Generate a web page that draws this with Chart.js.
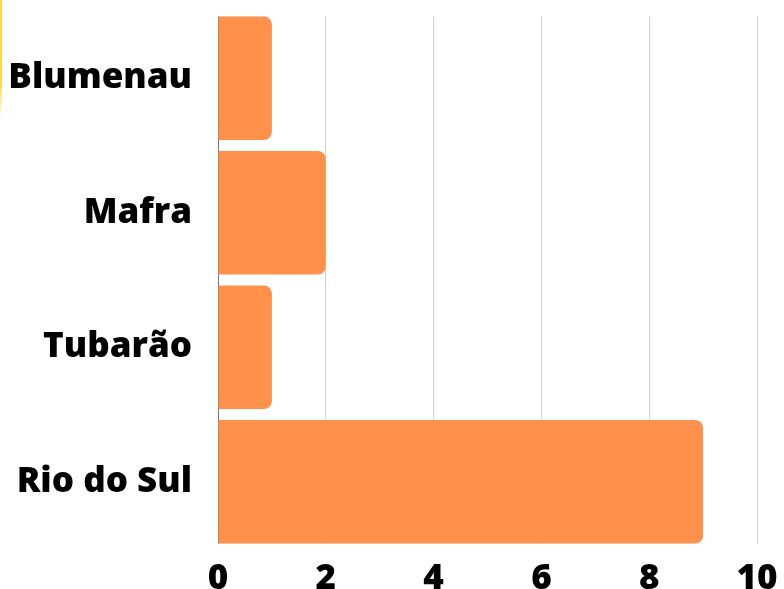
<!DOCTYPE html>
<html>
<head>
<meta charset="utf-8">
<script src="https://cdn.jsdelivr.net/npm/chart.js@4"></script>
<style>
  html, body { margin: 0; padding: 0; background: #fff; overflow: hidden; }
  #wrap { position: relative; width: 784px; height: 589px; }
  #chart { position: absolute; left: 0; top: 0; }
  #edge { position: absolute; left: 0; top: 0; width: 2px; height: 118px; z-index: 2;
          background: linear-gradient(#ffd84a 0%, #ffd84a 70%, rgba(255,216,74,0) 100%); }
</style>
</head>
<body>
<div id="wrap">
  <canvas id="chart" width="784" height="589"></canvas>
  <div id="edge"></div>
</div>
<script>
var cities = ['Blumenau', 'Mafra', 'Tubarão', 'Rio do Sul'];
var counts = [1, 2, 1, 9];
var xTicks = [0, 2, 4, 6, 8, 10];

var labelFont = { family: 'Open Sans', size: 35, weight: 800 };

// grid lines only run from the top of the first bar to the bottom of the last one
var trimGrid = {
    id: 'trimGrid',
    beforeDatasetsDraw: function (chart) {
        var meta = chart.getDatasetMeta(0);
        var first = meta.data[0], last = meta.data[meta.data.length - 1];
        var a = chart.chartArea, c = chart.ctx;
        c.save();
        c.fillStyle = '#fff';
        c.fillRect(a.left - 1, a.top - 1, a.right - a.left + 3, first.y - first.height / 2 - a.top + 1);
        var lb = last.y + last.height / 2;
        c.fillRect(a.left - 1, lb, a.right - a.left + 3, a.bottom - lb + 1);
        c.restore();
    }
};

var ctx = document.getElementById('chart');
var myChart = new Chart(ctx, {
    type: 'bar',
    data: {
        labels: cities,
        datasets: [{
            data: counts,
            backgroundColor: '#ff914d',
            borderRadius: 8,
            borderSkipped: 'start',
            barPercentage: 0.92,
            categoryPercentage: 1
        }]
    },
    options: {
        indexAxis: 'y',
        responsive: false,
        animation: false,
        layout: { padding: { top: 11, right: 0, bottom: 0, left: 0 } },
        plugins: { legend: { display: false }, tooltip: { enabled: false } },
        scales: {
            x: {
                min: 0,
                max: 10,
                afterBuildTicks: function (axis) {
                    axis.ticks = xTicks.map(function (v) { return { value: v }; });
                },
                afterFit: function (axis) {
                    axis.height = 40;
                    axis.paddingLeft = 0;
                    axis.paddingRight = 27;
                },
                grid: { color: '#d4d4d4', lineWidth: 1, drawTicks: false },
                border: { display: false },
                ticks: { color: '#000', font: labelFont, padding: 9 }
            },
            y: {
                afterFit: function (axis) {
                    axis.width = 218;
                    axis.paddingTop = 0;
                    axis.paddingBottom = 0;
                },
                grid: { display: false, drawTicks: false },
                border: { display: true, color: '#777', width: 1 },
                ticks: { color: '#000', font: labelFont, padding: 26 }
            }
        }
    },
    plugins: [trimGrid]
});
</script>
</body>
</html>
